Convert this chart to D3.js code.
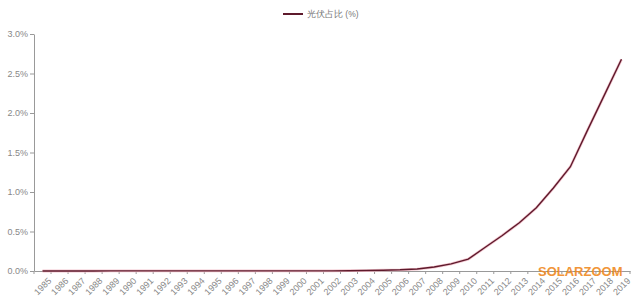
<!DOCTYPE html>
<meta charset="utf-8">
<style>
body { margin: 0; background: #fff; }
svg text { font-family: "Liberation Sans", Arial, sans-serif; }
</style>
<svg id="chart" width="640" height="305"></svg>
<script src="https://cdn.jsdelivr.net/npm/d3@7"></script>
<script>
var years = ["1985","1986","1987","1988","1989","1990","1991","1992","1993","1994",
  "1995","1996","1997","1998","1999","2000","2001","2002","2003","2004","2005",
  "2006","2007","2008","2009","2010","2011","2012","2013","2014","2015","2016",
  "2017","2018","2019"];
// 光伏占比 (%)
var share = [0.000,0.000,0.000,0.000,0.001,0.001,0.001,0.001,0.001,0.001,
  0.001,0.001,0.001,0.001,0.001,0.001,0.001,0.002,0.004,0.006,0.010,
  0.015,0.025,0.05,0.09,0.15,0.30,0.45,0.61,0.80,1.05,1.32,
  1.78,2.23,2.68];
var yTicks = [0, 0.5, 1.0, 1.5, 2.0, 2.5, 3.0];
var seriesName = "光伏占比 (%)";

var svg = d3.select("#chart"),
    margin = {left: 34, right: 10, top: 34, bottom: 34},
    width = 640 - margin.left - margin.right,
    height = 305 - margin.top - margin.bottom;

var x = d3.scaleBand().domain(years).range([0, width]);
var y = d3.scaleLinear().domain([0, 3]).range([height, 0]);

var g = svg.append("g").attr("transform", "translate(" + margin.left + "," + margin.top + ")");

// y axis
var yAxis = g.append("g")
  .call(d3.axisLeft(y).tickValues(yTicks).tickSize(4).tickSizeOuter(0)
    .tickFormat(function(d){ return d3.format(".1f")(d) + "%"; }));
yAxis.select(".domain").attr("stroke", "#999");
yAxis.selectAll(".tick line").attr("stroke", "#999");
yAxis.selectAll(".tick text").attr("fill", "#888").attr("font-size", 9).attr("x", -6);

// x axis with ticks on category boundaries
var xAxis = g.append("g").attr("transform", "translate(0," + height + ")")
  .call(d3.axisBottom(x).tickSize(0).tickSizeOuter(0));
xAxis.select(".domain").attr("stroke", "#999");
xAxis.selectAll(".tick text")
  .attr("fill", "#888").attr("font-size", 9)
  .attr("text-anchor", "end")
  .attr("transform", "translate(5,6) rotate(-45)")
  .attr("dy", "0.7em").attr("y", 0);
g.append("g").attr("transform", "translate(0," + height + ")")
  .selectAll("line").data(years.concat(["end"])).enter().append("line")
  .attr("x1", function(d, i){ return i * x.step(); })
  .attr("x2", function(d, i){ return i * x.step(); })
  .attr("y1", 0).attr("y2", 3)
  .attr("stroke", "#999");

// line
var line = d3.line()
  .x(function(d, i){ return x(years[i]) + x.bandwidth() / 2; })
  .y(function(d){ return y(d); });
g.append("path").datum(share)
  .attr("fill", "none")
  .attr("stroke", "#f3c6cf")
  .attr("stroke-width", 2.8)
  .attr("d", line);
g.append("path").datum(share)
  .attr("fill", "none")
  .attr("stroke", "#5e1a2c")
  .attr("stroke-width", 1.4)
  .attr("d", line);

// legend
var lg = svg.append("g").attr("transform", "translate(283,14)");
lg.append("line").attr("x1", 0).attr("x2", 20).attr("stroke", "#5e1a2c").attr("stroke-width", 2);
lg.append("text").attr("x", 24).attr("y", 3).attr("font-size", 8.5).attr("fill", "#777")
  .text(seriesName);

// watermark
svg.append("text").attr("x", 538).attr("y", 276)
  .attr("font-family", "DejaVu Sans Mono, monospace").attr("font-weight", "bold")
  .attr("font-size", 13).attr("fill", "#f08a24").attr("opacity", 0.9)
  .text("SOLARZOOM");
</script>
